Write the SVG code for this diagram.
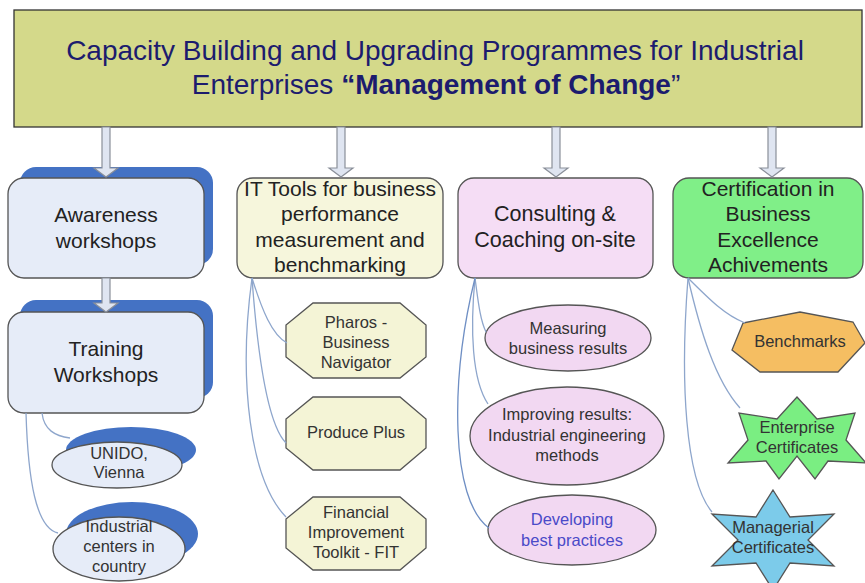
<svg xmlns="http://www.w3.org/2000/svg" width="865" height="583" viewBox="0 0 865 583">
<defs>
<style>
text{font-family:"Liberation Sans",Arial,sans-serif;text-anchor:middle}
.title{font-size:28px;fill:#1c1c6e}
.big{font-size:21px;fill:#222}
.small{font-size:16.5px;fill:#333}
.box{stroke:#555;stroke-width:1.3}
.shadow{fill:#4472c4}
.blue{fill:#e6ecf8}
.arrow{fill:#dfe5f1;stroke:#8a8f99;stroke-width:1.2}
.link{fill:none;stroke:#8ea6cc;stroke-width:1.3}
</style>
</defs>
<rect width="865" height="583" fill="#ffffff"/>

<g id="title">
<rect x="14" y="10" width="848" height="117" fill="#d4d98a" stroke="#333" stroke-width="1.3"/>
<text class="title" x="435" y="60">Capacity Building and Upgrading Programmes for Industrial</text>
<text class="title" x="436" y="94">Enterprises <tspan font-weight="bold">“Management of Change</tspan>”</text>
</g>

<g id="awareness">
<rect class="shadow" x="20" y="167" width="193" height="98" rx="16"/>
<rect class="box blue" x="8" y="178" width="196" height="100" rx="16"/>
<text class="big" x="106" y="222">Awareness</text>
<text class="big" x="106" y="248">workshops</text>
</g>

<g id="training">
<rect class="shadow" x="20" y="300" width="193" height="98" rx="16"/>
<rect class="box blue" x="8" y="312" width="196" height="101" rx="16"/>
<text class="big" x="106" y="356">Training</text>
<text class="big" x="106" y="382">Workshops</text>
</g>

<g id="unido">
<ellipse class="shadow" cx="131" cy="450" rx="65" ry="23"/>
<ellipse class="box blue" cx="117" cy="465" rx="65" ry="23"/>
<text class="small" x="119" y="459">UNIDO,</text>
<text class="small" x="119" y="478">Vienna</text>
</g>

<g id="industrial">
<ellipse class="shadow" cx="132" cy="534" rx="66" ry="32"/>
<ellipse class="box blue" cx="119" cy="549" rx="66" ry="32"/>
<text class="small" x="119" y="532">Industrial</text>
<text class="small" x="119" y="552">centers in</text>
<text class="small" x="119" y="572">country</text>
</g>

<g id="ittools">
<rect class="box" x="237" y="178" width="206" height="100" rx="16" fill="#f6f6dc"/>
<text class="big" x="340" y="196">IT Tools for business</text>
<text class="big" x="340" y="221">performance</text>
<text class="big" x="340" y="246.5">measurement and</text>
<text class="big" x="340" y="272">benchmarking</text>
</g>

<g id="pharos">
<polygon class="box" fill="#f4f4d6" points="313,303 400,303 426,325 426,357 400,378 313,378 286,357 286,325"/>
<text class="small" x="356" y="328">Pharos -</text>
<text class="small" x="356" y="348">Business</text>
<text class="small" x="356" y="368">Navigator</text>
</g>

<g id="produce">
<polygon class="box" fill="#f4f4d6" points="313,397 400,397 426,419 426,448 400,470 313,470 286,448 286,419"/>
<text class="small" x="356" y="438">Produce Plus</text>
</g>

<g id="financial">
<polygon class="box" fill="#f4f4d6" points="313,497 400,497 426,519 426,548 400,570 313,570 286,548 286,519"/>
<text class="small" x="356" y="518">Financial</text>
<text class="small" x="356" y="538">Improvement</text>
<text class="small" x="356" y="558">Toolkit - FIT</text>
</g>

<g id="consulting">
<rect class="box" x="458" y="178" width="195" height="100" rx="16" fill="#f5ddf5"/>
<text class="big" x="555" y="221" style="font-size:21.5px">Consulting &amp;</text>
<text class="big" x="555" y="247" style="font-size:21.5px">Coaching on-site</text>
</g>

<g id="measuring">
<ellipse class="box" fill="#f2d8f2" cx="568" cy="338" rx="83" ry="33"/>
<text class="small" x="568" y="334">Measuring</text>
<text class="small" x="568" y="354">business results</text>
</g>

<g id="improving">
<ellipse class="box" fill="#f2d8f2" cx="567" cy="436" rx="97" ry="49"/>
<text class="small" x="567" y="420">Improving results:</text>
<text class="small" x="567" y="441">Industrial engineering</text>
<text class="small" x="567" y="461">methods</text>
</g>

<g id="developing">
<ellipse class="box" fill="#f2d8f2" cx="572" cy="530" rx="84" ry="35"/>
<text class="small" x="572" y="525" style="fill:#4a4ac8">Developing</text>
<text class="small" x="572" y="546" style="fill:#4a4ac8">best practices</text>
</g>

<g id="certification">
<rect class="box" x="673" y="178" width="190" height="100" rx="16" fill="#80ef88"/>
<text class="big" x="768" y="196">Certification in</text>
<text class="big" x="768" y="221">Business</text>
<text class="big" x="768" y="246.5">Excellence</text>
<text class="big" x="768" y="272">Achivements</text>
</g>

<g id="benchmarks">
<polygon class="box" fill="#f5be62" points="743,323 800,312 853,322 865,343 838,372 760,372 732,350"/>
<text class="small" x="800" y="347">Benchmarks</text>
</g>

<g id="enterprise">
<polygon class="box" fill="#7aee82" points="797,397 817,419 855,413 846,440 866,463 828,461 815,479 797,456 779,479 766,461 728,463 748,440 739,413 777,419"/>
<text class="small" x="797" y="433">Enterprise</text>
<text class="small" x="797" y="453">Certificates</text>
</g>

<g id="managerial">
<polygon class="box" fill="#7ccbea" points="773,490 790,517 834,514 808,540 834,566 790,563 773,590 756,563 712,566 738,540 712,514 756,517"/>
<text class="small" x="773" y="533">Managerial</text>
<text class="small" x="773" y="553">Certificates</text>
</g>

<g id="connectors">
<polygon class="arrow" points="102,127 110,127 110,168 118,168 106,177 94,168 102,168"/>
<polygon class="arrow" points="102,278 110,278 110,303 118,303 106,312 94,303 102,303"/>
<polygon class="arrow" points="337,127 345,127 345,168 353,168 341,177 329,168 337,168"/>
<polygon class="arrow" points="552,127 560,127 560,168 568,168 556,177 544,168 552,168"/>
<polygon class="arrow" points="768,127 776,127 776,168 784,168 772,177 760,168 768,168"/>
<path class="link" d="M42 413 C44 430 55 436 70 438"/>
<path class="link" d="M26 413 C28 480 36 528 58 533"/>
<path class="link" d="M252 278 C262 310 272 335 287 343"/>
<path class="link" d="M252 278 C258 360 268 425 286 443"/>
<path class="link" d="M252 278 C238 380 250 480 286 517"/>
<path class="link" d="M475 278 C478 300 480 320 486 332"/>
<path class="link" d="M475 278 C470 330 472 380 488 404"/>
<path class="link" d="M475 278 C450 380 450 500 489 528" style="stroke:#6f8fc4"/>
<path class="link" d="M688 278 C710 300 725 315 745 323"/>
<path class="link" d="M688 278 C700 330 715 380 740 408"/>
<path class="link" d="M688 278 C680 380 685 480 712 512"/>
</g>
</svg>
